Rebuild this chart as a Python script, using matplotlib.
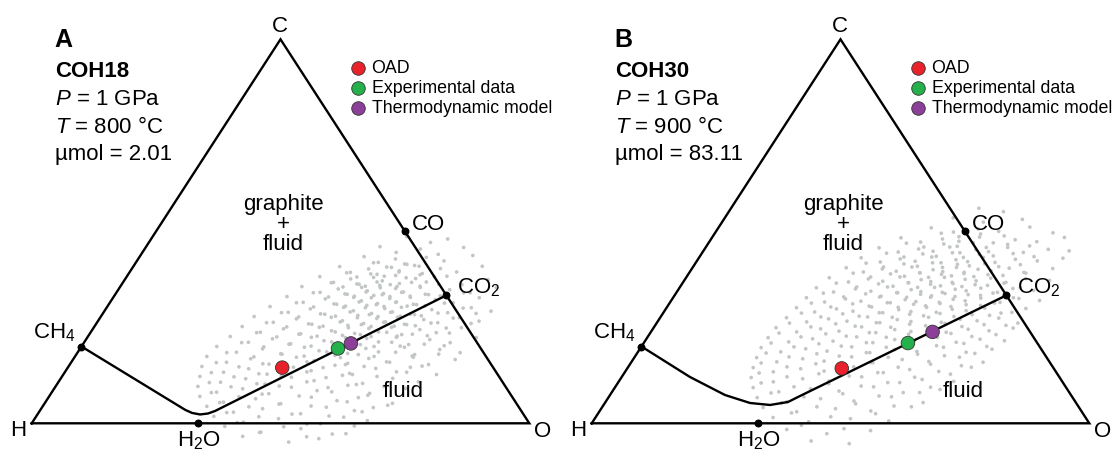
import matplotlib
matplotlib.use("Agg")
import matplotlib.pyplot as plt
import numpy as np

plt.rcParams['font.family'] = ['Liberation Sans', 'DejaVu Sans']
plt.rcParams['mathtext.fontset'] = 'custom'
plt.rcParams['mathtext.rm'] = 'Liberation Sans'
plt.rcParams['mathtext.it'] = 'Liberation Sans:italic'
plt.rcParams['mathtext.bf'] = 'Liberation Sans:bold'

# ---------------- data (mole fractions of C and O; H = 1 - C - O) ----------------
species_labels = ['CH$_4$', 'H$_2$O', 'CO', 'CO$_2$']
species_C = [0.2, 0.0, 0.5, 1 / 3]
species_O = [0.0, 1 / 3, 0.5, 2 / 3]

# graphite-saturation boundary
curveA_C = [0.2, 0.035, 0.027, 0.023, 0.0255, 0.032, 1 / 3]
curveA_O = [0.0, 0.291, 0.3087, 0.3268, 0.3415, 0.3524, 2 / 3]
curveB_C = [0.2, 0.1206, 0.0737, 0.0529, 0.0477, 0.0555, 0.0711, 1 / 3]
curveB_O = [0.0, 0.1372, 0.231, 0.2917, 0.3345, 0.3668, 0.3831, 2 / 3]

# OAD, experimental data, thermodynamic model
marker_labels = ['OAD', 'Experimental data', 'Thermodynamic model']
marker_colors = ['#e8212b', '#24b04b', '#8b3f98']
markersA_C = [0.145, 0.195, 0.208]
markersA_O = [0.431, 0.518, 0.5375]
markersB_C = [0.143, 0.209, 0.238]
markersB_O = [0.431, 0.531, 0.566]

# Monte Carlo cloud, panel A (percent C, percent O)
cloudA_C = [
    48.6, 47.1, 48.0,
    46.0, 44.5, 45.4, 44.0, 45.8,
    43.4, 41.9, 42.8, 41.4, 43.2, 42.3, 43.7,
    40.8, 39.3, 40.2, 38.8, 40.6, 39.7, 41.1, 39.0, 40.3, 39.4, 40.9,
    38.2, 36.7, 37.6, 36.2, 38.0, 37.1, 38.5, 36.4, 37.7, 36.8, 38.3, 36.1, 37.4,
    35.6, 34.1, 35.0, 33.6, 35.4, 34.5, 35.9, 33.8, 35.1, 34.2, 35.7, 33.5, 34.8, 34.0, 35.3,
    33.0, 31.5, 32.4, 31.0, 32.8, 31.9, 33.3, 31.2, 32.5, 31.6, 33.1, 30.9, 32.2, 31.4, 32.7,
    30.4, 28.9, 29.8, 28.4, 30.2, 29.3, 30.7, 28.6, 29.9, 29.0, 30.5, 28.3, 29.6, 28.8, 30.1, 29.2,
    27.8, 26.3, 27.2, 25.8, 27.6, 26.7, 28.1, 26.0, 27.3, 26.4, 27.9, 25.7, 27.0, 26.2, 27.5, 26.6,
    25.2, 23.7, 24.6, 23.2, 25.0, 24.1, 25.5, 23.4, 24.7, 23.8, 25.3, 23.1, 24.4, 23.6, 24.9,
    22.6, 21.1, 22.0, 20.6, 22.4, 21.5, 22.9, 20.8, 22.1, 21.2, 22.7, 20.5, 21.8, 21.0, 22.3,
    20.0, 18.5, 19.4, 18.0, 19.8, 18.9, 20.3, 18.2, 19.5, 18.6, 20.1, 17.9, 19.2, 18.4,
    17.4, 15.9, 16.8, 15.4, 17.2, 16.3, 17.7, 15.6, 16.9, 16.0, 17.5, 15.3, 16.6,
    14.8, 13.3, 14.2, 12.8, 14.6, 13.7, 15.1, 13.0, 14.3, 13.4, 14.9, 12.7,
    12.2, 10.7, 11.6, 10.2, 12.0, 11.1, 12.5, 10.4, 11.7, 10.8,
    9.6, 8.1, 9.0, 7.6, 9.4, 8.5, 9.9, 7.8, 9.1,
    7.0, 5.5, 6.4, 5.0, 6.8, 5.9, 7.3, 5.2,
    4.4, 2.9, 3.8, 2.4, 4.2, 3.3, 4.7,
    1.8, 0.3, 1.2, -0.2, 1.6, 0.7,
    -0.8, -2.3, -1.4, -2.8,
    -3.4, -4.9, -4.0,
    41.8, 40.7, 41.5, 40.9,
    39.2, 38.1, 38.9, 38.3, 39.4, 37.9, 38.7, 38.2,
    36.6, 35.5, 36.3, 35.7, 36.8, 35.3, 36.1, 35.6, 36.7, 35.4, 36.2,
    34.0, 32.9, 33.7, 33.1, 34.2, 32.7, 33.5, 33.0, 34.1, 32.8, 33.6, 33.2, 34.0,
    31.4, 30.3, 31.1, 30.5, 31.6, 30.1, 30.9, 30.4, 31.5, 30.2, 31.0, 30.6, 31.3, 30.0,
    28.8, 27.7, 28.5, 27.9, 29.0, 27.5, 28.3, 27.8, 28.9, 27.6, 28.4, 28.0, 28.7, 27.4, 28.6,
    26.2, 25.1, 25.9, 25.3, 26.4, 24.9, 25.7, 25.2, 26.3, 25.0, 25.8, 25.4, 26.1, 24.8, 26.0,
    23.6, 22.5, 23.3, 22.7, 23.8, 22.3, 23.1, 22.6, 23.7, 22.4, 23.2, 22.8, 23.5,
    21.0, 19.9, 20.7, 20.1, 21.2, 19.7, 20.5, 20.0, 21.1, 19.8, 20.6, 20.2,
    18.4, 17.3, 18.1, 17.5, 18.6, 17.1, 17.9, 17.4, 18.5, 17.2, 18.0,
    15.8, 14.7, 15.5, 14.9, 16.0, 14.5, 15.3, 14.8, 15.9, 14.6,
    13.2, 12.1, 12.9, 12.3, 13.4, 11.9, 12.7, 12.2, 13.3,
    10.6, 9.5, 10.3, 9.7, 10.8, 9.3, 10.1, 9.6,
    8.0, 6.9, 7.7, 7.1, 8.2, 6.7,
    5.4, 4.3, 5.1, 4.5, 5.6, 4.1,
    2.8, 1.7, 2.5, 1.9, 3.0,
    0.2, -0.9, -0.1, -0.7,
    -2.4, -3.5, -2.7,
]
cloudA_O = [
    51.1, 56.6, 59.6,
    47.0, 51.0, 55.4, 59.7, 63.9,
    45.1, 48.7, 51.7, 54.7, 57.7, 61.7, 66.8,
    41.5, 44.4, 47.6, 50.0, 52.0, 54.0, 56.4, 59.0, 62.0, 65.7, 70.1,
    38.8, 42.3, 45.3, 47.7, 49.7, 51.9, 53.9, 55.7, 58.3, 60.9, 64.3, 68.4, 73.0,
    36.5, 40.9, 44.1, 46.6, 48.6, 50.2, 52.0, 53.8, 55.6, 57.6, 60.2, 63.0, 66.6, 71.1, 75.7,
    34.8, 38.8, 42.8, 45.8, 48.3, 50.3, 52.1, 53.9, 55.7, 57.5, 59.5, 61.9, 65.0, 69.0, 73.6,
    32.7, 37.1, 41.1, 44.7, 47.6, 50.0, 52.0, 54.0, 56.0, 58.0, 60.2, 62.8, 65.6, 69.2, 73.3, 77.7,
    30.8, 35.4, 39.6, 43.4, 46.4, 49.1, 51.5, 53.7, 55.7, 57.9, 60.1, 62.5, 65.3, 68.5, 72.2, 76.6,
    29.7, 34.1, 38.3, 42.1, 45.3, 48.2, 50.8, 53.2, 55.4, 57.8, 60.2, 62.8, 65.8, 69.5, 73.9,
    28.6, 33.0, 37.4, 41.4, 45.0, 48.0, 51.0, 53.7, 56.3, 59.1, 62.1, 65.5, 69.1, 73.6, 78.2,
    27.2, 31.9, 36.7, 41.3, 44.9, 48.3, 51.4, 54.4, 57.4, 60.4, 64.0, 68.0, 72.4, 76.9,
    26.5, 31.2, 35.6, 40.0, 44.6, 48.6, 52.1, 55.7, 59.3, 63.3, 67.7, 72.1, 76.8,
    26.8, 31.9, 36.5, 40.9, 45.3, 49.3, 53.4, 57.4, 62.0, 66.6, 71.0, 75.0,
    27.7, 32.6, 37.2, 41.8, 46.2, 51.2, 56.2, 61.3, 66.7, 72.3,
    28.6, 33.1, 37.9, 42.5, 47.5, 53.1, 58.6, 64.0, 70.6,
    30.3, 35.8, 41.8, 47.2, 52.8, 58.4, 63.9, 69.9,
    33.0, 39.1, 44.5, 51.1, 57.1, 63.2, 69.2,
    35.7, 42.4, 49.0, 55.4, 61.9, 67.1,
    39.2, 47.2, 54.8, 61.8,
    44.1, 54.1, 59.7,
    47.8, 51.0, 54.2, 57.4,
    43.7, 46.3, 48.7, 51.7, 54.1, 56.3, 58.7, 61.8,
    41.9, 44.8, 47.2, 49.2, 51.0, 52.4, 54.0, 55.6, 58.0, 60.4, 63.7,
    39.6, 43.2, 46.1, 48.3, 50.1, 51.9, 53.7, 55.5, 57.3, 59.7, 62.3, 65.5, 69.8,
    37.5, 41.5, 45.2, 47.8, 50.0, 52.0, 53.8, 55.6, 57.4, 59.2, 61.2, 63.8, 67.3, 71.7,
    35.8, 39.8, 43.8, 47.1, 49.5, 51.7, 53.7, 55.7, 57.7, 59.7, 61.9, 64.3, 67.3, 71.0, 75.0,
    34.1, 38.7, 42.7, 45.9, 48.8, 51.2, 53.4, 55.6, 57.6, 59.8, 62.0, 64.4, 67.2, 70.9, 75.3,
    33.4, 38.0, 42.4, 46.0, 49.1, 51.9, 54.5, 56.9, 59.5, 62.1, 64.9, 68.1, 72.2,
    31.7, 36.7, 41.7, 46.1, 49.7, 53.0, 55.8, 58.8, 61.8, 65.0, 68.6, 72.8,
    30.0, 36.0, 41.0, 46.0, 50.0, 53.5, 56.7, 60.1, 63.9, 68.1, 72.8,
    29.2, 34.3, 38.7, 43.3, 47.3, 51.3, 55.4, 59.4, 64.0, 68.8,
    29.5, 34.6, 39.2, 44.0, 48.6, 53.2, 58.1, 63.3, 68.7,
    30.4, 35.3, 40.1, 44.9, 49.9, 54.9, 60.2, 66.0,
    32.1, 38.2, 43.8, 50.2, 56.2, 62.3,
    35.1, 41.5, 47.5, 53.9, 60.6, 66.6,
    37.8, 44.8, 52.8, 58.8, 64.9,
    41.2, 51.1, 58.1, 65.2,
    47.0, 57.0, 64.5,
]

# Monte Carlo cloud, panel B (percent C, percent O)
cloudB_C = [
    56.0, 55.1,
    53.5, 52.4, 53.1,
    50.9, 49.8, 50.6, 50.0, 51.1, 49.6,
    48.3, 47.2, 48.0, 47.4, 48.5, 47.0, 47.8, 47.3, 48.4,
    45.7, 44.6, 45.4, 44.8, 45.9, 44.4, 45.2, 44.7, 45.8, 44.5, 45.3, 44.9,
    43.1, 42.0, 42.8, 42.2, 43.3, 41.8, 42.6, 42.1, 43.2, 41.9, 42.7, 42.3, 43.0,
    40.5, 39.4, 40.2, 39.6, 40.7, 39.2, 40.0, 39.5, 40.6, 39.3, 40.1, 39.7, 40.4, 39.1, 40.3,
    37.9, 36.8, 37.6, 37.0, 38.1, 36.6, 37.4, 36.9, 38.0, 36.7, 37.5, 37.1, 37.8, 36.5, 37.7, 37.2,
    35.3, 34.2, 35.0, 34.4, 35.5, 34.0, 34.8, 34.3, 35.4, 34.1, 34.9, 34.5, 35.2, 33.9, 35.1, 34.6,
    32.7, 31.6, 32.4, 31.8, 32.9, 31.4, 32.2, 31.7, 32.8, 31.5, 32.3, 31.9, 32.6, 31.3, 32.5, 32.0,
    30.1, 29.0, 29.8, 29.2, 30.3, 28.8, 29.6, 29.1, 30.2, 28.9, 29.7, 29.3, 30.0, 28.7, 29.9,
    27.5, 26.4, 27.2, 26.6, 27.7, 26.2, 27.0, 26.5, 27.6, 26.3, 27.1, 26.7, 27.4, 26.1,
    24.9, 23.8, 24.6, 24.0, 25.1, 23.6, 24.4, 23.9, 25.0, 23.7, 24.5, 24.1, 24.8,
    22.3, 21.2, 22.0, 21.4, 22.5, 21.0, 21.8, 21.3, 22.4, 21.1, 21.9, 21.5,
    19.7, 18.6, 19.4, 18.8, 19.9, 18.4, 19.2, 18.7, 19.8, 18.5, 19.3,
    17.1, 16.0, 16.8, 16.2, 17.3, 15.8, 16.6, 16.1, 17.2, 15.9,
    14.5, 13.4, 14.2, 13.6, 14.7, 13.2, 14.0, 13.5, 14.6,
    11.9, 10.8, 11.6, 11.0, 12.1, 10.6, 11.4, 10.9,
    9.3, 8.2, 9.0, 8.4, 9.5, 8.0, 8.8,
    6.7, 5.6, 6.4, 5.8, 6.9, 5.4,
    4.1, 3.0, 3.8, 3.2, 4.3,
    1.5, 0.4, 1.2, 0.6,
    -1.6, -2.7, -1.9,
    -4.6, -5.3,
    49.5, 48.6, 49.3, 48.8,
    46.9, 45.9, 46.7, 46.1, 47.0, 45.8, 46.6, 46.2,
    44.3, 43.3, 44.1, 43.5, 44.4, 43.2, 44.0, 43.6, 44.2, 43.4,
    41.7, 40.7, 41.5, 40.9, 41.8, 40.6, 41.4, 41.0, 41.6, 40.8, 41.3,
    39.1, 38.1, 38.9, 38.3, 39.2, 38.0, 38.8, 38.4, 39.0, 38.2, 38.7, 38.5, 39.3,
    36.5, 35.5, 36.3, 35.7, 36.6, 35.4, 36.2, 35.8, 36.4, 35.6, 36.1, 35.9, 36.7, 35.3,
    33.9, 32.9, 33.7, 33.1, 34.0, 32.8, 33.6, 33.2, 33.8, 33.0, 33.5, 33.3, 34.1, 32.7,
    31.3, 30.3, 31.1, 30.5, 31.4, 30.2, 31.0, 30.6, 31.2, 30.4, 30.9, 30.7, 31.5,
    28.7, 27.7, 28.5, 27.9, 28.8, 27.6, 28.4, 28.0, 28.6, 27.8, 28.3, 28.1, 28.9,
    26.1, 25.1, 25.9, 25.3, 26.2, 25.0, 25.8, 25.4, 26.0, 25.2, 25.7, 25.5,
    23.5, 22.5, 23.3, 22.7, 23.6, 22.4, 23.2, 22.8, 23.4, 22.6, 23.1,
    20.9, 19.9, 20.7, 20.1, 21.0, 19.8, 20.6, 20.2, 20.8, 20.0,
    18.3, 17.3, 18.1, 17.5, 18.4, 17.2, 18.0, 17.6, 18.2,
    15.7, 14.7, 15.5, 14.9, 15.8, 14.6, 15.4, 15.0,
    13.1, 12.1, 12.9, 12.3, 13.2, 12.0, 12.8,
    10.5, 9.5, 10.3, 9.7, 10.6, 9.4,
    7.9, 6.9, 7.7, 7.1, 8.0,
    5.3, 4.3, 5.1, 4.5,
    2.7, 1.7, 2.5,
    -0.5, -1.4,
]
cloudB_O = [
    49.8, 55.2,
    45.9, 52.5, 60.0,
    42.8, 47.8, 52.4, 56.8, 62.5, 67.9,
    38.0, 42.5, 46.5, 50.1, 53.7, 57.2, 61.2, 65.8, 70.8,
    34.9, 39.3, 43.0, 46.2, 49.0, 51.8, 54.6, 57.4, 60.7, 64.5, 69.1, 73.5,
    32.6, 37.0, 40.6, 43.9, 46.7, 49.3, 51.9, 54.5, 57.1, 60.1, 63.8, 68.4, 73.2,
    30.9, 34.9, 38.3, 41.4, 44.0, 46.4, 48.6, 50.8, 53.0, 55.2, 57.6, 60.4, 63.7, 67.7, 72.5,
    28.8, 33.2, 36.8, 40.0, 42.9, 45.3, 47.5, 49.7, 51.9, 54.1, 56.3, 58.7, 61.3, 64.6, 68.4, 73.4,
    27.5, 31.5, 35.5, 38.9, 41.7, 44.3, 46.8, 49.0, 51.2, 53.4, 55.6, 58.0, 60.6, 63.7, 67.1, 71.5,
    26.8, 31.0, 34.8, 38.2, 41.4, 44.3, 46.9, 49.3, 51.7, 54.1, 56.5, 59.1, 61.9, 65.3, 69.6, 74.0,
    26.1, 30.3, 34.3, 37.9, 41.1, 44.1, 46.9, 49.6, 52.2, 54.8, 57.6, 60.6, 64.0, 67.9, 72.3,
    25.4, 30.0, 34.0, 38.0, 41.6, 44.8, 47.9, 50.9, 53.9, 57.1, 60.5, 64.1, 68.1, 72.6,
    24.6, 29.3, 33.7, 37.7, 41.7, 45.3, 48.7, 52.2, 55.8, 59.4, 63.4, 67.8, 72.3,
    24.3, 29.0, 33.4, 37.8, 42.0, 46.0, 50.0, 54.1, 58.3, 62.7, 67.1, 72.2,
    24.2, 28.7, 33.3, 37.9, 42.3, 46.7, 51.3, 56.0, 60.8, 66.0, 70.8,
    24.6, 29.2, 34.0, 38.6, 43.6, 48.6, 54.1, 59.7, 65.3, 70.7,
    25.2, 29.8, 34.9, 39.9, 45.3, 50.9, 56.9, 63.0, 69.0,
    26.1, 31.1, 36.6, 42.2, 48.2, 54.2, 60.7, 67.3,
    27.8, 33.5, 39.5, 45.5, 51.9, 58.6, 65.6,
    29.9, 36.4, 42.8, 49.8, 56.8, 63.9,
    32.4, 39.7, 47.1, 54.5, 62.1,
    35.7, 43.4, 51.4, 59.4,
    40.0, 48.6, 57.0,
    46.4, 54.4,
    45.5, 49.5, 53.5, 58.5,
    39.8, 43.8, 47.4, 50.4, 53.2, 56.4, 60.3, 64.9,
    37.1, 41.1, 44.5, 47.5, 50.3, 53.1, 55.9, 58.9, 62.6, 67.2,
    34.3, 38.3, 42.0, 45.0, 47.6, 50.2, 52.8, 55.4, 58.2, 61.4, 65.5,
    33.0, 37.0, 40.6, 43.7, 46.3, 48.7, 50.9, 53.1, 55.3, 57.7, 60.3, 63.4, 67.2,
    30.9, 35.5, 39.5, 42.7, 45.4, 47.8, 50.0, 52.2, 54.4, 56.6, 59.0, 61.6, 64.9, 68.5,
    29.6, 34.2, 38.2, 41.6, 44.5, 46.9, 49.3, 51.7, 54.1, 56.5, 58.9, 61.5, 64.5, 68.4,
    28.5, 32.9, 36.9, 40.5, 43.7, 46.5, 49.2, 51.8, 54.4, 57.0, 59.8, 62.8, 66.3,
    27.8, 32.2, 36.2, 39.8, 43.4, 46.6, 49.7, 52.7, 55.7, 58.9, 62.3, 65.9, 70.0,
    26.7, 31.5, 36.1, 40.3, 44.1, 47.6, 51.0, 54.4, 58.0, 61.8, 66.0, 70.5,
    25.9, 30.8, 35.4, 39.8, 44.0, 48.0, 52.1, 56.1, 60.5, 65.1, 69.7,
    25.6, 30.7, 35.3, 40.1, 44.7, 49.3, 54.2, 59.2, 64.4, 69.4,
    25.9, 31.0, 36.2, 41.0, 46.0, 51.0, 56.5, 62.1, 67.9,
    26.2, 31.9, 37.3, 42.7, 48.3, 54.3, 60.4, 66.8,
    27.1, 33.2, 39.2, 45.6, 52.0, 58.9, 65.7,
    28.8, 35.9, 42.5, 49.3, 56.6, 63.4,
    32.1, 39.2, 46.6, 54.2, 61.9,
    35.5, 43.1, 50.5, 58.5,
    38.8, 47.2, 55.8,
    42.4, 51.4,
]

panel_letters = ['A', 'B']
sample_names = ['COH18', 'COH30']
pressures = ['1 GPa', '1 GPa']
temperatures = ['800 °C', '900 °C']
amounts = ['2.01', '83.11']


# ---------------- drawing ----------------
def tern(C, O):
    C = np.asarray(C, dtype=float)
    O = np.asarray(O, dtype=float)
    return O + C / 2.0, C


# layout helper: position in panel pixels -> data coordinates
HX, HY, SIDE, HEIGHT = 31.7, 423.3, 497.6, 384.0


def P(px, py):
    return (px - HX) / SIDE, (HY - py) / HEIGHT


fig = plt.figure(figsize=(11.14, 4.5), dpi=100)
W, Hh = 1114.0, 450.0
panel_offsets = [0.0, 560.0]

curves = [(curveA_C, curveA_O), (curveB_C, curveB_O)]
markers = [(markersA_C, markersA_O), (markersB_C, markersB_O)]
clouds = [(cloudA_C, cloudA_O), (cloudB_C, cloudB_O)]

for i in range(2):
    off = panel_offsets[i]
    left_px = 0 if i == 0 else 557
    ax = fig.add_axes([left_px / W, 0, 557 / W, 1])
    ax.set_xlim(P(left_px - off, 0)[0], P(left_px - off + 557, 0)[0])
    ax.set_ylim(P(0, Hh)[1], P(0, 0)[1])
    ax.axis('off')

    # cloud
    cC, cO = clouds[i]
    x, y = tern(np.array(cC) / 100.0, np.array(cO) / 100.0)
    ax.scatter(x, y, s=7, color='#c2c6c6', edgecolors='none', zorder=1)

    # triangle
    tx, ty = tern([0, 0, 1, 0], [0, 1, 0, 0])
    ax.plot(tx, ty, color='black', lw=1.7, solid_joinstyle='miter', zorder=3)

    # boundary curve
    kx, ky = tern(curves[i][0], curves[i][1])
    ax.plot(kx, ky, color='black', lw=1.7, solid_joinstyle='round', zorder=3)

    # species dots
    sx, sy = tern(species_C, species_O)
    ax.scatter(sx, sy, s=22, color='black', zorder=4)

    # markers
    mx, my = tern(markers[i][0], markers[i][1])
    ax.scatter(mx, my, s=95, c=marker_colors, edgecolors='#333333',
               linewidths=0.6, zorder=5)

    fs = 16
    # vertex labels
    ax.text(*P(280, 32.5), 'C', fontsize=fs, ha='center', va='baseline')
    ax.text(*P(18.3, 436), 'H', fontsize=fs, ha='center', va='baseline')
    ax.text(*P(543, 437), 'O', fontsize=fs, ha='center', va='baseline')
    ax.text(*P(412, 230), species_labels[2], fontsize=fs, ha='left', va='baseline')
    ax.text(*P(457, 293.5), species_labels[3], fontsize=fs, ha='left', va='baseline')
    ax.text(*P(33, 338.5), species_labels[0], fontsize=fs, ha='left', va='baseline')
    ax.text(*P(199, 446.5), species_labels[1], fontsize=fs, ha='center', va='baseline')

    # field labels
    ax.text(*P(283, 224.5), 'graphite\n+\nfluid', fontsize=fs, ha='center',
            va='center', multialignment='center', linespacing=0.92)
    ax.text(*P(403, 397), 'fluid', fontsize=fs, ha='center', va='baseline')

    # header text
    ax.text(*P(54, 46.7), panel_letters[i], fontsize=18, fontweight='bold',
            ha='left', va='baseline')
    ax.text(*P(55, 77.3), sample_names[i], fontsize=16, fontweight='bold',
            ha='left', va='baseline')
    ax.text(*P(55, 105), '$P$ = ' + pressures[i], fontsize=16, ha='left', va='baseline')
    ax.text(*P(55, 132.7), '$T$ = ' + temperatures[i], fontsize=16, ha='left', va='baseline')
    ax.text(*P(55, 160), 'µmol = ' + amounts[i], fontsize=16, ha='left', va='baseline')

    # legend
    for k, (lab, col) in enumerate(zip(marker_labels, marker_colors)):
        yy = 68.3 + 20.0 * k
        ax.scatter(*P(358.3, yy), s=95, color=col, edgecolors='#333333',
                   linewidths=0.6, zorder=5)
        ax.text(*P(371.5, yy), lab, fontsize=12.8, ha='left', va='center')

fig.savefig('out.png', dpi=100)
